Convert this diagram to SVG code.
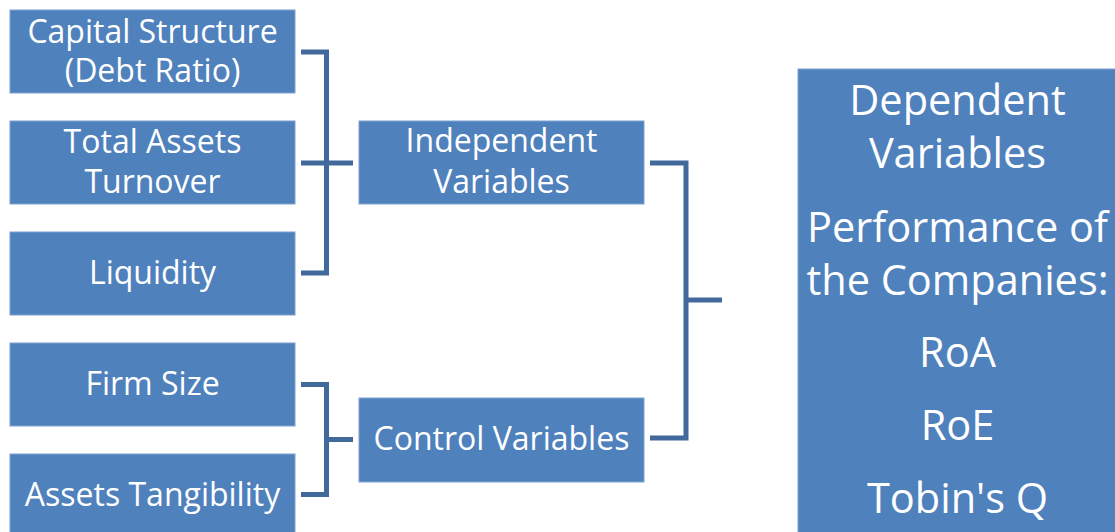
<svg xmlns="http://www.w3.org/2000/svg" width="1115" height="532" viewBox="0 0 1115 532">
<style>
.box{fill:#4F81BD;stroke:#7FA2CF;stroke-width:1}
.t{fill:#FFFFFF;font-family:"Open Sans","Liberation Sans",sans-serif;font-size:32px;text-anchor:middle}
.tb{font-size:41.5px}
.c{fill:none;stroke:#41699B;stroke-width:5}
</style>
<rect width="1115" height="532" fill="#FFFFFF"/>
<g id="n-capital"><rect class="box" x="10" y="10" width="285" height="83"/><text class="t" x="152.5" y="43">Capital Structure</text><text class="t" x="152.5" y="82">(Debt Ratio)</text></g>
<g id="n-turnover"><rect class="box" x="10" y="121" width="285" height="83"/><text class="t" x="152.5" y="153">Total Assets</text><text class="t" x="152.5" y="193">Turnover</text></g>
<g id="n-liquidity"><rect class="box" x="10" y="232" width="285" height="83"/><text class="t" x="152.5" y="284">Liquidity</text></g>
<g id="n-firmsize"><rect class="box" x="10" y="343" width="285" height="83"/><text class="t" x="152.5" y="395">Firm Size</text></g>
<g id="n-tangibility"><rect class="box" x="10" y="454" width="285" height="83"/><text class="t" x="152.5" y="506">Assets Tangibility</text></g>
<g id="n-independent"><rect class="box" x="359" y="121" width="285" height="83"/><text class="t" x="501.5" y="152">Independent</text><text class="t" x="501.5" y="193">Variables</text></g>
<g id="n-control"><rect class="box" x="359" y="398" width="285" height="84"/><text class="t" x="501.5" y="450">Control Variables</text></g>
<g id="n-dependent"><rect class="box" x="798" y="69" width="330" height="470"/>
<text class="t tb" x="957.5" y="115">Dependent</text>
<text class="t tb" x="957.5" y="168">Variables</text>
<text class="t tb" x="957.5" y="242">Performance of</text>
<text class="t tb" x="957.5" y="295">the Companies:</text>
<text class="t tb" x="957.5" y="367">RoA</text>
<text class="t tb" x="957.5" y="440">RoE</text>
<text class="t tb" x="957.5" y="513">Tobin's Q</text>
</g>
<g id="connectors">
<polyline class="c" points="301,52 326.5,52 326.5,273 301,273"/>
<line class="c" x1="301" y1="163" x2="353" y2="163"/>
<polyline class="c" points="301,384.5 326.5,384.5 326.5,494.5 301,494.5"/>
<line class="c" x1="326.5" y1="439.5" x2="353" y2="439.5"/>
<polyline class="c" points="650,163 686,163 686,438 650,438"/>
<line class="c" x1="686" y1="300" x2="722" y2="300"/>
</g>
</svg>
